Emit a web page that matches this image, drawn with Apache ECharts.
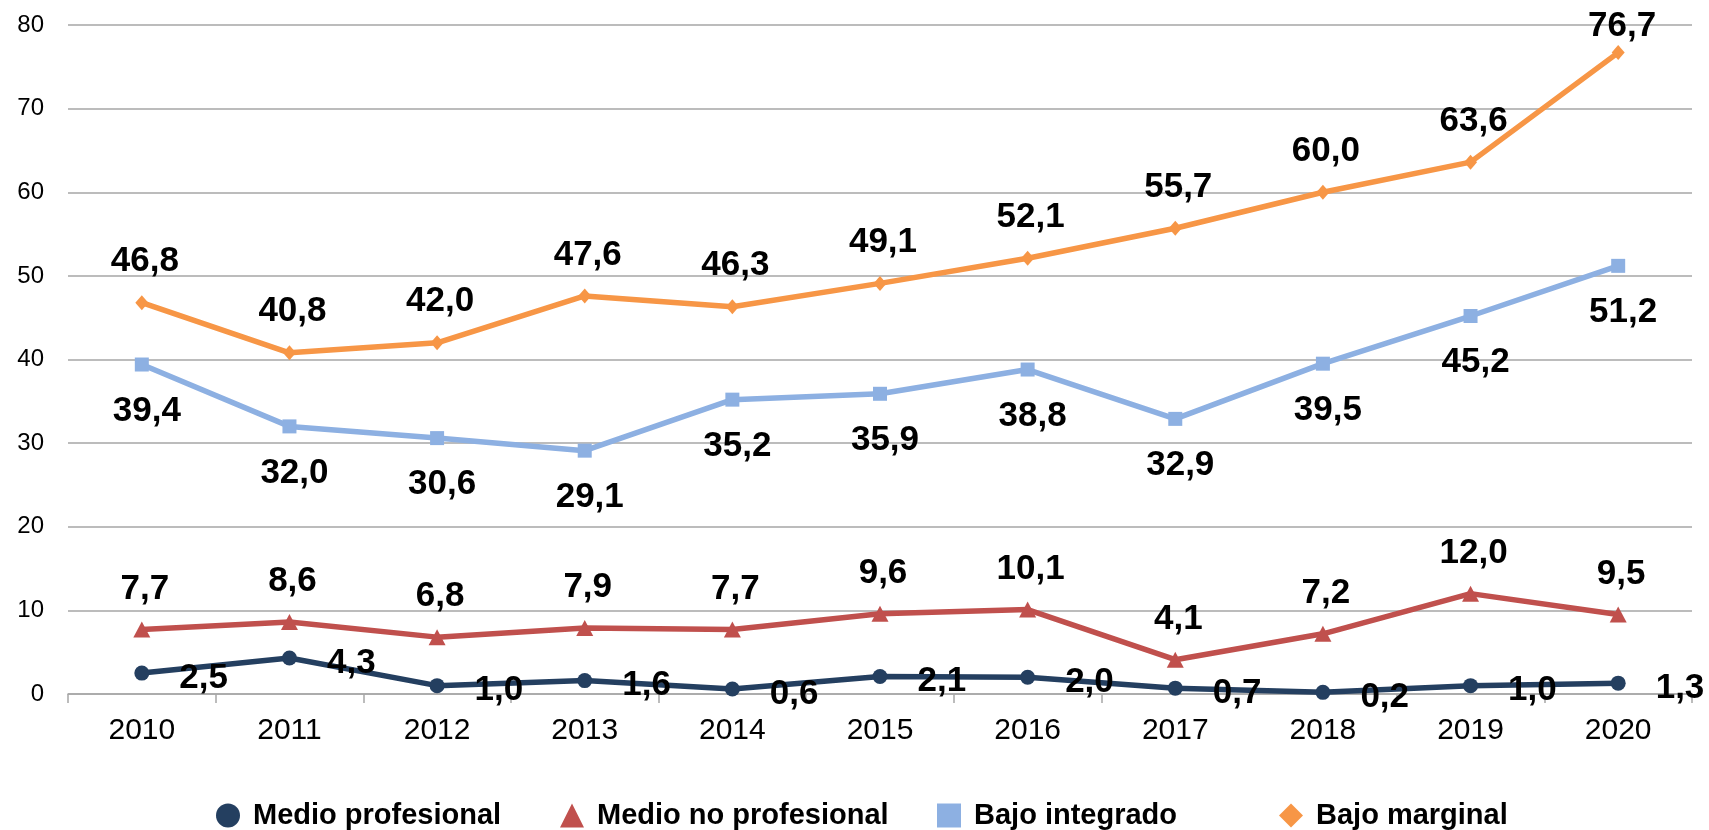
<!DOCTYPE html>
<html>
<head>
<meta charset="utf-8">
<script src="https://cdn.jsdelivr.net/npm/echarts@6/dist/echarts.min.js"></script>
<style>
html,body{margin:0;padding:0;background:#fff;}
#chart{width:1709px;height:830px;}
</style>
</head>
<body>
<div id="chart"></div>
<script>
const years = ['2010','2011','2012','2013','2014','2015','2016','2017','2018','2019','2020'];
const medioProfesional = [2.5, 4.3, 1.0, 1.6, 0.6, 2.1, 2.0, 0.7, 0.2, 1.0, 1.3];
const medioNoProfesional = [7.7, 8.6, 6.8, 7.9, 7.7, 9.6, 10.1, 4.1, 7.2, 12.0, 9.5];
const bajoIntegrado = [39.4, 32.0, 30.6, 29.1, 35.2, 35.9, 38.8, 32.9, 39.5, 45.2, 51.2];
const bajoMarginal = [46.8, 40.8, 42.0, 47.6, 46.3, 49.1, 52.1, 55.7, 60.0, 63.6, 76.7];
const seriesNames = ['Medio profesional','Medio no profesional','Bajo integrado','Bajo marginal'];

const FONT = '"Liberation Sans", Arial, sans-serif';
const colors = ['#243F60', '#C0504D', '#8DB0E2', '#F79646'];
const fmt = p => p.value.toFixed(1).replace('.', ',');
const labelBase = {show:true, color:'#000', fontFamily:FONT, fontWeight:'bold', fontSize:35, formatter:fmt};

const chart = echarts.init(document.getElementById('chart'), null, {renderer:'canvas'});

const legendLefts = [211, 555, 932, 1274];
const legendIcons = ['circle','triangle','rect','diamond'];

const option = {
  animation:false,
  backgroundColor:'#fff',
  grid:{left:68, right:17, top:25, bottom:136, containLabel:false},
  legend: seriesNames.map((n,i)=>({
    data:[{name:n, icon:legendIcons[i]}],
    left:legendLefts[i], top:796,
    itemWidth:24, itemHeight:24, itemGap:0,
    selectedMode:false,
    textStyle:{fontFamily:FONT, fontWeight:'bold', fontSize:29, color:'#000', padding:[0,0,0,8]}
  })),
  xAxis:{
    type:'category', data:years, boundaryGap:true,
    axisLine:{show:true, lineStyle:{color:'#a6a6a6', width:1.5}},
    axisTick:{show:true, length:9, lineStyle:{color:'#a6a6a6', width:1.5}},
    axisLabel:{color:'#000', fontFamily:FONT, fontSize:30, margin:22},
    splitLine:{show:false}
  },
  yAxis:{
    type:'value', min:0, max:80, interval:10,
    axisLine:{show:false}, axisTick:{show:false},
    axisLabel:{color:'#000', fontFamily:FONT, fontSize:24, margin:24},
    splitLine:{show:true, lineStyle:{color:'#a6a6a6', width:1.5}}
  },
  series:[
    {
      name:seriesNames[0], type:'line', data:medioProfesional,
      symbol:'circle', symbolSize:15,
      lineStyle:{color:colors[0], width:5.5}, itemStyle:{color:colors[0]},
      label:Object.assign({}, labelBase, {position:'right', distance:30, offset:[0,5]}),
      z:2
    },
    {
      name:seriesNames[1], type:'line', data:medioNoProfesional,
      symbol:'triangle', symbolSize:[17,16],
      lineStyle:{color:colors[1], width:5.5}, itemStyle:{color:colors[1]},
      label:Object.assign({}, labelBase, {position:'top', distance:15, offset:[3,0]}),
      z:3
    },
    {
      name:seriesNames[2], type:'line', data:bajoIntegrado,
      symbol:'rect', symbolSize:14,
      lineStyle:{color:colors[2], width:5.5}, itemStyle:{color:colors[2]},
      label:Object.assign({}, labelBase, {position:'bottom', distance:22, offset:[5,0]}),
      z:4
    },
    {
      name:seriesNames[3], type:'line',
      data:bajoMarginal.map((v,i)=> i===bajoMarginal.length-1 ? {value:v, label:{offset:[4,15]}} : v),
      symbol:'diamond', symbolSize:[13,15],
      lineStyle:{color:colors[3], width:5.5}, itemStyle:{color:colors[3]},
      label:Object.assign({}, labelBase, {position:'top', distance:16, offset:[3,0]}),
      z:5
    }
  ]
};
chart.setOption(option);
</script>
</body>
</html>
